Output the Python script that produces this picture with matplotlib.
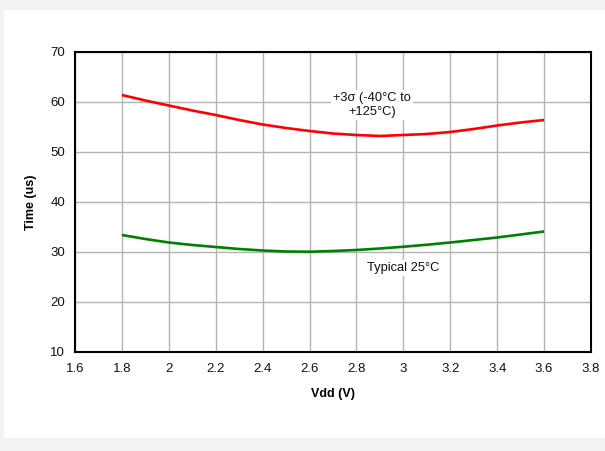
import matplotlib
matplotlib.use("Agg")
import matplotlib.pyplot as plt
from matplotlib.patches import Rectangle

# data
vdd = [1.8, 1.9, 2.0, 2.1, 2.2, 2.3, 2.4, 2.5, 2.6, 2.7,
       2.8, 2.9, 3.0, 3.1, 3.2, 3.3, 3.4, 3.5, 3.6]
t_3sigma = [61.4, 60.3, 59.3, 58.3, 57.4, 56.4, 55.5, 54.8, 54.2, 53.7,
            53.4, 53.2, 53.4, 53.6, 54.0, 54.6, 55.3, 55.9, 56.4]
t_typical = [33.4, 32.6, 31.9, 31.4, 31.0, 30.6, 30.3, 30.1, 30.05, 30.2,
             30.4, 30.7, 31.05, 31.45, 31.9, 32.4, 32.9, 33.5, 34.1]
x_ticks = [1.6, 1.8, 2.0, 2.2, 2.4, 2.6, 2.8, 3.0, 3.2, 3.4, 3.6, 3.8]
x_labels = ["1.6", "1.8", "2", "2.2", "2.4", "2.6", "2.8", "3", "3.2", "3.4", "3.6", "3.8"]
y_ticks = [10, 20, 30, 40, 50, 60, 70]

plt.rcParams["font.family"] = ["Liberation Sans", "DejaVu Sans"]

fig = plt.figure(figsize=(6.05, 4.51), dpi=100)
fig.patch.set_facecolor("#f2f2f2")
# white panel behind the chart
fig.patches.append(Rectangle((4 / 605, (451 - 438) / 451), 601 / 605, 428 / 451,
                             transform=fig.transFigure, facecolor="white",
                             edgecolor="none", zorder=-1))

ax = fig.add_axes([75 / 605, (451 - 352) / 451, 516 / 605, 300 / 451])
ax.set_facecolor("white")

ax.plot(vdd, t_3sigma, color="#ff0000", linewidth=1.9, solid_capstyle="butt", zorder=3)
ax.plot(vdd, t_typical, color="#008000", linewidth=1.9, solid_capstyle="butt", zorder=3)

ax.text(2.867, 59.4, "+3σ (-40°C to\n+125°C)", ha="center", va="center",
        fontsize=9.3, color="#111111", linespacing=1.2,
        bbox=dict(facecolor="white", edgecolor="none", pad=1.5), zorder=4)
ax.text(3.0, 26.8, "Typical 25°C", ha="center", va="center",
        fontsize=9.3, color="#111111",
        bbox=dict(facecolor="white", edgecolor="none", pad=1.5), zorder=4)

ax.set_xlim(1.6, 3.8)
ax.set_ylim(10, 70)
ax.set_xticks(x_ticks)
ax.set_xticklabels(x_labels)
ax.set_yticks(y_ticks)
ax.tick_params(length=0, labelsize=9.5, colors="#111111")
ax.tick_params(axis="x", pad=8)
ax.tick_params(axis="y", pad=7)
ax.grid(True, color="#b3b3b3", linewidth=1.0)
ax.set_axisbelow(True)
for s in ax.spines.values():
    s.set_linewidth(1.5)
    s.set_color("black")

ax.set_xlabel("Vdd (V)", fontsize=9, fontweight="bold", labelpad=9)
ax.set_ylabel("Time (us)", fontsize=9, fontweight="bold", labelpad=10)

fig.savefig("out.png", dpi=100, facecolor=fig.get_facecolor())
